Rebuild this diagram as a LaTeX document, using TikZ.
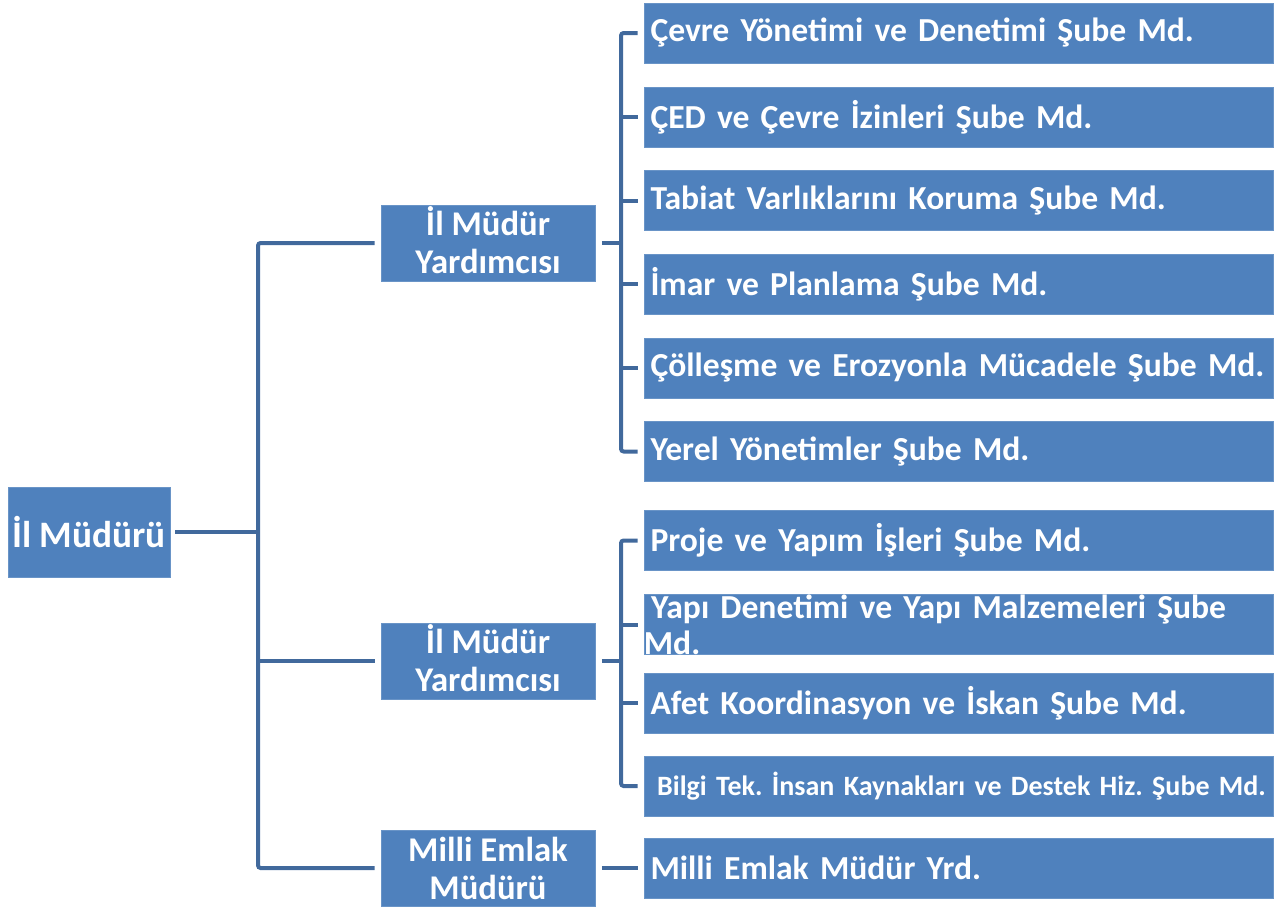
\documentclass[tikz,border=0pt]{standalone}
\usepackage{fontspec}
\setmainfont{Carlito}
\frenchspacing
\usetikzlibrary{positioning,calc}
\definecolor{boxblue}{HTML}{4F81BD}
\definecolor{lineblue}{HTML}{41699C}

\begin{document}
\begin{tikzpicture}[x=0.75pt, y=-0.75pt,
	box/.style={fill=boxblue, draw=boxblue!85!white, text=white, inner sep=0pt,
		font=\bfseries\fontsize{25.2}{28.5}\selectfont},
	unit/.style={box, minimum width=471.75pt, minimum height=45pt,
		inner xsep=4.5pt, text width=462pt, align=left},
	deputy/.style={box, minimum width=160.5pt, minimum height=57pt, align=center,
		font=\bfseries\fontsize{26}{28.5}\selectfont},
	conn/.style={draw=lineblue, line width=3pt, rounded corners=2pt}]
	\useasboundingbox (0,0) rectangle (1276,907);

	\node[box, minimum width=121.5pt, minimum height=67.5pt,
		font=\bfseries\fontsize{28}{32}\selectfont] (mudur) at (89,532) {İl Müdürü};

	\node[deputy] (yard1) at (488,243) {İl Müdür\\Yardımcısı\vspace*{5pt}};
	\node[deputy] (yard2) at (488,661) {İl Müdür\\Yardımcısı\vspace*{5pt}};
	\node[deputy] (emlak) at (488,868) {Milli Emlak\\Müdürü};

	\node[unit] (cevre) at (958.5,33) {Çevre Yönetimi ve Denetimi Şube Md.};
	\node[unit] (ced) at (958.5,117) {ÇED ve Çevre İzinleri Şube Md.};
	\node[unit] (tabiat) at (958.5,200.5) {Tabiat Varlıklarını Koruma Şube Md.};
	\node[unit] (imar) at (958.5,284) {İmar ve Planlama Şube Md.};
	\node[unit] (colles) at (958.5,368) {Çölleşme ve Erozyonla Mücadele Şube Md.};
	\node[unit] (yerel) at (958.5,451.5) {Yerel Yönetimler Şube Md.};
	\node[unit] (proje) at (958.5,540.5) {Proje ve Yapım İşleri Şube Md.};
	\node[unit, font=\bfseries\fontsize{25.2}{27}\selectfont] (yapi) at (958.5,624.5)
		{\hspace*{0.5pt}Yapı Denetimi ve Yapı Malzemeleri Şube\\\hspace*{-5pt}Md.};
	\node[unit] (afet) at (958.5,703) {Afet Koordinasyon ve İskan Şube Md.};
	\node[unit, font=\bfseries\fontsize{21}{24}\selectfont] (bilgi) at (958.5,786)
		{\hspace*{5pt}\makebox[0pt][l]{Bilgi Tek. İnsan Kaynakları ve Destek Hiz. Şube Md.}};
	\node[unit] (emlakyrd) at (958.5,868) {Milli Emlak Müdür Yrd.};

	\coordinate (trunk) at (258,532);
	\coordinate (br1) at (621,243);
	\coordinate (br2) at (621,661);

	\draw[conn, shorten <=3.75pt] (mudur) -- (trunk);
	\draw[conn, shorten <=4.5pt, shorten >=4.5pt] (yard1.west) -| (trunk) |- (emlak.west);
	\draw[conn, shorten >=4.5pt] (trunk |- yard2.west) -- (yard2.west);

	\draw[conn, shorten <=5pt] (yard1.east) -- (br1);
	\draw[conn, shorten <=4.5pt, shorten >=4.5pt] (cevre.west) -| (br1) |- (yerel.west);
	\foreach \u in {ced,tabiat,imar,colles}
		\draw[conn, shorten >=4.5pt] (br1 |- \u.west) -- (\u.west);

	\draw[conn, shorten <=5pt] (yard2.east) -- (br2);
	\draw[conn, shorten <=4.5pt, shorten >=4.5pt] (proje.west) -| (br2) |- (bilgi.west);
	\foreach \u in {yapi,afet}
		\draw[conn, shorten >=4.5pt] (br2 |- \u.west) -- (\u.west);

	\draw[conn, shorten <=5pt, shorten >=4.5pt] (emlak.east) -- (emlakyrd.west);
\end{tikzpicture}
\end{document}
